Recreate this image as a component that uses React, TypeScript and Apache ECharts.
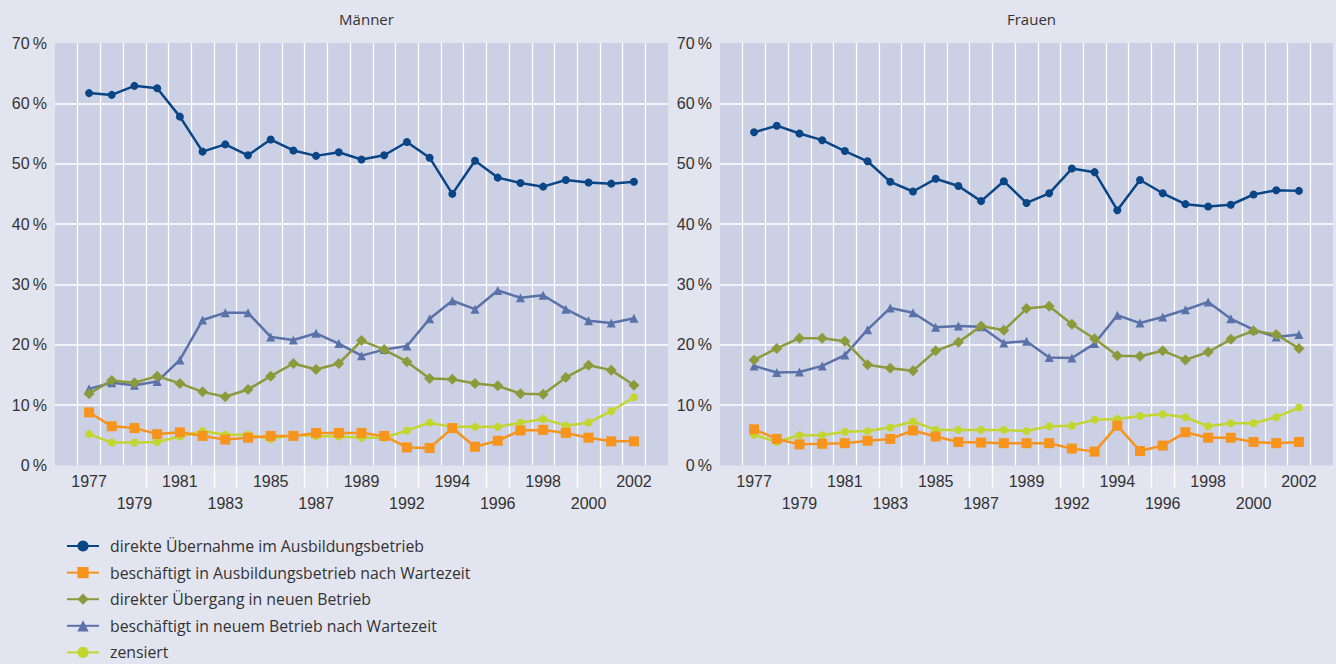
import React, { useEffect, useRef } from 'react';
import * as echarts from 'echarts';

const years = ['1977','1978','1979','1980','1981','1982','1983','1984','1985','1986','1987','1988','1989','1990','1992','1993','1994','1995','1996','1997','1998','1999','2000','2001','2002'];

const seriesNames = [
  'direkte Übernahme im Ausbildungsbetrieb',
  'beschäftigt in Ausbildungsbetrieb nach Wartezeit',
  'direkter Übergang in neuen Betrieb',
  'beschäftigt in neuem Betrieb nach Wartezeit',
  'zensiert',
];

const panelTitles = ['Männer', 'Frauen'];
const yTicks = [0, 10, 20, 30, 40, 50, 60, 70];

const menDirect = [61.7,61.4,62.9,62.5,57.8,52.0,53.2,51.4,54.0,52.2,51.3,51.9,50.7,51.4,53.6,51.0,45.0,50.5,47.7,46.8,46.2,47.3,46.9,46.7,47.0];
const menWaitOwn = [8.8,6.5,6.2,5.2,5.5,4.9,4.3,4.6,4.9,4.9,5.4,5.4,5.4,4.9,3.0,2.9,6.2,3.1,4.1,5.8,5.9,5.4,4.6,4.0,4.0];
const menDirectNew = [11.9,14.1,13.7,14.8,13.6,12.2,11.4,12.6,14.8,16.9,15.9,16.9,20.7,19.2,17.2,14.4,14.3,13.6,13.2,11.9,11.8,14.6,16.6,15.8,13.3];
const menWaitNew = [12.7,13.7,13.3,13.9,17.5,24.1,25.3,25.3,21.3,20.8,21.9,20.2,18.2,19.2,19.8,24.3,27.3,25.9,29.0,27.8,28.2,25.9,24.0,23.6,24.4];
const menCensored = [5.2,3.8,3.8,3.9,4.8,5.7,5.1,5.1,4.4,5.1,4.9,4.8,4.6,4.6,5.8,7.1,6.4,6.4,6.4,7.1,7.7,6.6,7.1,9.0,11.3];

const womenDirect = [55.2,56.3,55.0,53.9,52.1,50.4,47.0,45.4,47.5,46.3,43.8,47.1,43.5,45.1,49.2,48.6,42.3,47.3,45.1,43.3,42.9,43.2,44.9,45.6,45.5];
const womenWaitOwn = [6.0,4.4,3.5,3.6,3.7,4.1,4.4,5.8,4.8,3.9,3.8,3.7,3.7,3.7,2.8,2.3,6.6,2.4,3.3,5.5,4.6,4.6,3.9,3.7,3.9];
const womenDirectNew = [17.5,19.4,21.1,21.1,20.6,16.7,16.1,15.7,19.0,20.4,23.1,22.4,26.0,26.4,23.4,21.0,18.2,18.1,19.0,17.5,18.8,20.9,22.3,21.7,19.4];
const womenWaitNew = [16.5,15.4,15.5,16.5,18.3,22.5,26.1,25.3,22.9,23.1,23.0,20.3,20.6,17.9,17.8,20.2,24.9,23.6,24.6,25.8,27.1,24.3,22.5,21.3,21.7];
const womenCensored = [5.1,3.9,5.0,5.0,5.6,5.7,6.3,7.3,5.9,5.9,5.9,5.9,5.7,6.5,6.6,7.6,7.7,8.2,8.5,8.0,6.5,7.0,7.0,8.0,9.6];

const menData = [menDirect, menWaitOwn, menDirectNew, menWaitNew, menCensored];
const womenData = [womenDirect, womenWaitOwn, womenDirectNew, womenWaitNew, womenCensored];

const styles = [
  { color: '#0a4585', symbol: 'circle', size: 8 },
  { color: '#f7941d', symbol: 'rect', size: 10 },
  { color: '#8c9a3c', symbol: 'diamond', size: 11 },
  { color: '#5a72a8', symbol: 'triangle', size: 9 },
  { color: '#c3d630', symbol: 'circle', size: 8 },
];

const AX_FONT = 'Liberation Sans, Arial, sans-serif';
const TXT_FONT = 'Open Sans, Noto Sans, sans-serif';

export default function App() {
  const ref = useRef<HTMLDivElement>(null);
  useEffect(() => {
    if (!ref.current) return;
    const chart = echarts.init(ref.current, undefined, { renderer: 'svg' });
    const cats = ['', ...years, ''];
    const pad = (a: number[]) => [null, ...a, null];

    const plotLeft = [55, 720];
    const plotW = 613;
    const plotTop = 43;
    const plotH = 422.5;

    const grids: any[] = [];
    const xAxes: any[] = [];
    const yAxes: any[] = [];
    const series: any[] = [];
    const titles: any[] = [];

    [0, 1].forEach((p) => {
      grids.push({
        left: plotLeft[p], top: plotTop, width: plotW, height: plotH,
        show: true, backgroundColor: '#cbd0e4', borderWidth: 0,
      });
    });
    [0, 1].forEach((p) => {
      grids.push({ left: plotLeft[p], top: plotTop + plotH, width: plotW, height: 23 });
    });

    [0, 1].forEach((p) => {
      xAxes.push({
        type: 'category', gridIndex: p, data: cats, boundaryGap: true,
        axisLine: { show: false }, axisTick: { show: false },
        axisLabel: {
          interval: 0, margin: 4.5, fontSize: 16, lineHeight: 22,
          fontFamily: AX_FONT, color: '#333333',
          formatter: (v: string, i: number) => {
            const k = i - 1;
            if (k < 0 || k >= years.length || k % 2 !== 0) return '';
            return k % 4 === 2 ? '\n' + v : v;
          },
        },
        splitLine: { show: true, showMinLine: false, showMaxLine: false, lineStyle: { color: '#ffffff', width: 1.3 } },
      });
      yAxes.push({
        type: 'value', gridIndex: p, min: yTicks[0], max: yTicks[yTicks.length - 1], interval: 10,
        axisLine: { show: false }, axisTick: { show: false },
        axisLabel: {
          margin: 8, fontSize: 16, fontFamily: AX_FONT, color: '#333333',
          formatter: (v: number) => v + '\u2009%',
        },
        splitLine: { show: true, showMinLine: false, showMaxLine: false, lineStyle: { color: '#ffffff', width: 1.6 } },
      });
      titles.push({
        text: panelTitles[p], left: plotLeft[p] + plotW / 2, top: 6, textAlign: 'center',
        textStyle: { fontSize: 15, fontWeight: 'normal', fontFamily: TXT_FONT, color: '#333333' },
      });
    });
    [0, 1].forEach((p) => {
      xAxes.push({
        type: 'category', gridIndex: p + 2, data: cats, boundaryGap: true,
        axisLine: { show: false }, axisTick: { show: false }, axisLabel: { show: false },
        splitLine: {
          show: true, showMinLine: false, showMaxLine: false,
          interval: (i: number) => i >= 3 && i <= 24 && (i % 4 === 3 || i % 4 === 0),
          lineStyle: { color: '#ffffff', width: 1.3 },
        },
      });
      yAxes.push({ type: 'value', gridIndex: p + 2, min: 0, max: 1, show: false });
    });

    [menData, womenData].forEach((panel, p) => {
      panel.forEach((vals, s) => {
        const st = styles[s];
        series.push({
          type: 'line', name: seriesNames[s], xAxisIndex: p, yAxisIndex: p,
          data: pad(vals), symbol: st.symbol, symbolSize: st.size, showSymbol: true,
          lineStyle: { color: st.color, width: 2.5 },
          itemStyle: { color: st.color },
          z: 10 - s,
        });
      });
    });

    chart.setOption({
      animation: false,
      backgroundColor: '#e2e4f0',
      title: titles,
      grid: grids,
      xAxis: xAxes,
      yAxis: yAxes,
      series,
      legend: {
        data: seriesNames, orient: 'vertical', left: 66, top: 538, height: 150, padding: 0,
        itemWidth: 32, itemHeight: 14, itemGap: 10.6,
        textStyle: { fontSize: 15.8, fontFamily: TXT_FONT, color: '#333333', padding: [0, 0, 0, 6] },
      },
    });
    return () => chart.dispose();
  }, []);
  return <div ref={ref} style={{ position: 'fixed', left: 0, top: 0, width: 1336, height: 664 }} />;
}
